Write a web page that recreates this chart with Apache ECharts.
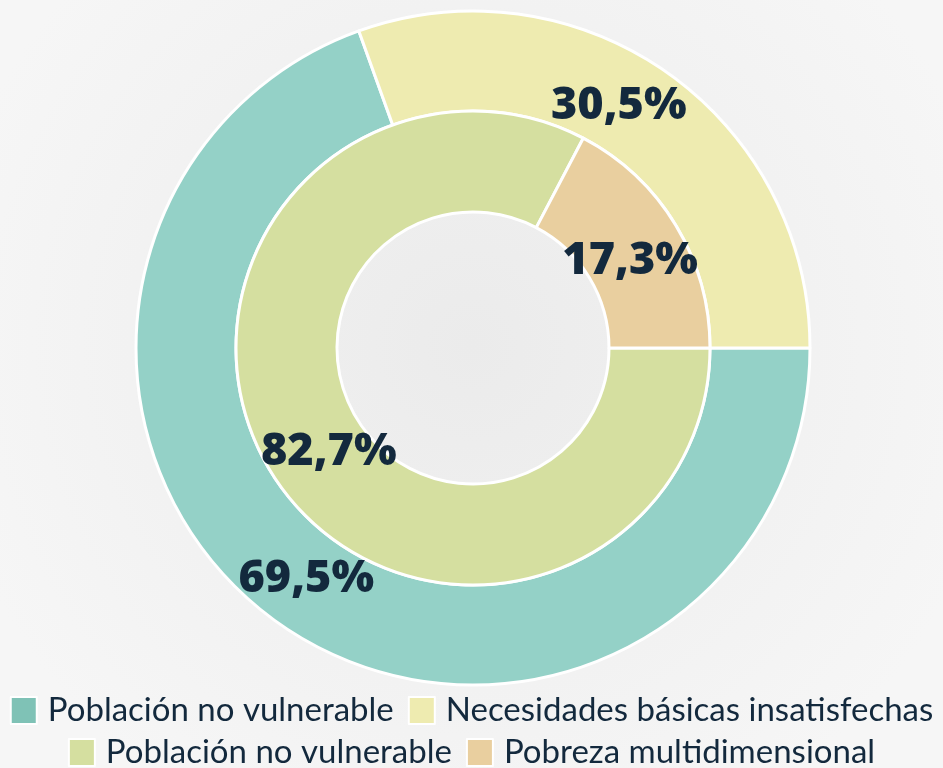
<!DOCTYPE html>
<html>
<head>
<meta charset="utf-8">
<script src="https://cdn.jsdelivr.net/npm/echarts@6/dist/echarts.min.js"></script>
<style>
    html, body { margin: 0; padding: 0; background: #f2f2f2; }
    #chart { width: 943px; height: 768px; }
</style>
</head>
<body>
<div id="chart"></div>
<script>
    // anillo exterior
    var outerNames = ['Población no vulnerable', 'Necesidades básicas insatisfechas'],
        outerValues = [69.5, 30.5],
        outerColors = ['#94d1c7', '#eeebb0'];

    // anillo interior
    var innerNames = ['Población no vulnerable', 'Pobreza multidimensional'],
        innerValues = [82.7, 17.3],
        innerColors = ['#d5dfa0', '#e9cf9f'];

    var legendColors = ['#7fc2b6', '#eeebb0', '#d5dfa0', '#e9cf9f'];

    // ajuste fino de etiquetas
    var outerOffsets = [[0, -6], [-21, -5]],
        innerOffsets = [[18, 6], [-5, 11]];

    function toData(names, values, colors, offsets) {
        var _data = [];
        for (var i = 0; i < names.length; i++) {
            _data.push({
                name: names[i],
                value: values[i],
                itemStyle: { color: colors[i] },
                label: { offset: offsets[i] }
            });
        }
        return _data;
    }

    function fmt(p) {
        return p.value.toFixed(1).replace('.', ',') + '%';
    }

    var labelStyle = {
        show: true,
        position: 'inside',
        formatter: fmt,
        color: '#13293d',
        fontFamily: 'Open Sans',
        fontWeight: 800,
        fontSize: 45
    };

    var legendText = {
        color: '#13293d',
        fontFamily: 'Lato',
        fontSize: 33,
        padding: [0, 0, 0, 6]
    };

    var chart = echarts.init(document.getElementById('chart'));

    var option = {
        backgroundColor: {
            type: 'radial', x: 0.5, y: 0.45, r: 0.7,
            colorStops: [{ offset: 0, color: '#ebebeb' }, { offset: 1, color: '#f6f6f6' }]
        },
        animation: false,
        legend: [{
            top: 689,
            left: 'center',
            itemWidth: 26,
            itemHeight: 27,
            itemGap: 14,
            icon: 'rect',
            textStyle: legendText,
            data: [
                { name: outerNames[0], itemStyle: { color: legendColors[0] } },
                { name: outerNames[1], itemStyle: { color: legendColors[1] } }
            ]
        }, {
            top: 731,
            left: 'center',
            itemWidth: 26,
            itemHeight: 27,
            itemGap: 14,
            icon: 'rect',
            textStyle: legendText,
            data: [
                { name: innerNames[0], itemStyle: { color: legendColors[2] } },
                { name: innerNames[1], itemStyle: { color: legendColors[3] } }
            ]
        }],
        series: [{
            name: 'exterior',
            type: 'pie',
            center: [473, 348],
            radius: [237, 337],
            startAngle: 0,
            clockwise: true,
            label: labelStyle,
            labelLine: { show: false },
            itemStyle: { borderColor: '#ffffff', borderWidth: 3 },
            data: toData(outerNames, outerValues, outerColors, outerOffsets)
        }, {
            name: 'interior',
            type: 'pie',
            center: [473, 348],
            radius: [136, 237],
            startAngle: 0,
            clockwise: true,
            label: labelStyle,
            labelLine: { show: false },
            itemStyle: { borderColor: '#ffffff', borderWidth: 3 },
            data: toData(innerNames, innerValues, innerColors, innerOffsets)
        }]
    };

    chart.setOption(option);
</script>
</body>
</html>
